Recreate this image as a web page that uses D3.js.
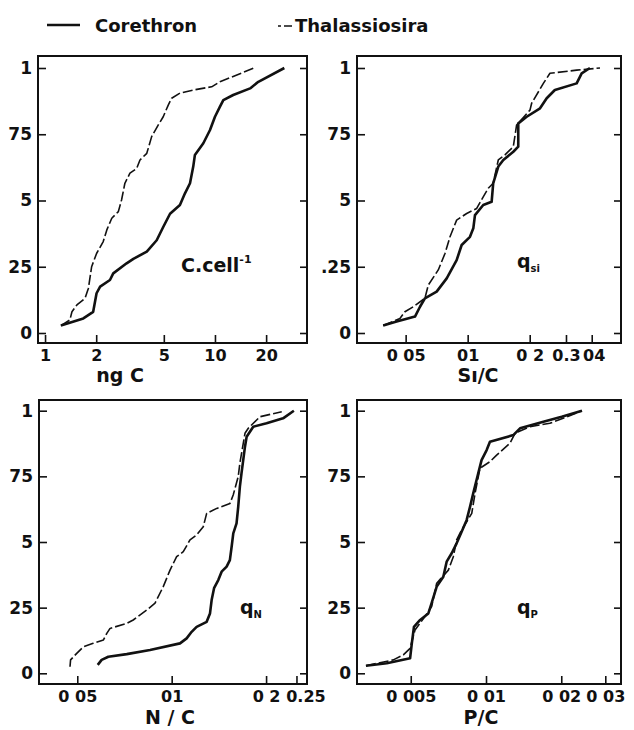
<!DOCTYPE html>
<html>
<head>
<meta charset="utf-8">
<script src="https://cdn.jsdelivr.net/npm/d3@7"></script>
<style>
  body { margin: 0; background: #fff; }
  text { font-family: "DejaVu Sans", sans-serif; font-weight: bold; fill: #111; }
</style>
</head>
<body>
<div class="chart"></div>
<script>
// cumulative frequency curves, [x, fraction]
const corethronCell = [[1.24,0.028],[1.68,0.055],[1.92,0.08],[2.01,0.15],[2.11,0.175],[2.41,0.2],[2.52,0.225],[3.02,0.263],[3.31,0.28],[3.97,0.307],[4.54,0.35],[4.96,0.40],[5.44,0.45],[6.22,0.483],[6.66,0.527],[7.13,0.565],[7.45,0.628],[7.62,0.672],[8.54,0.716],[9.35,0.766],[10.0,0.816],[10.7,0.854],[11.2,0.879],[12.8,0.898],[16.1,0.923],[18.0,0.948],[25.6,1.0]];
const thalassCell = [[1.24,0.028],[1.40,0.049],[1.44,0.08],[1.54,0.106],[1.72,0.131],[1.80,0.169],[1.88,0.25],[2.01,0.30],[2.20,0.345],[2.31,0.389],[2.47,0.433],[2.70,0.458],[2.82,0.502],[2.95,0.565],[3.16,0.603],[3.46,0.621],[3.62,0.653],[3.97,0.678],[4.24,0.741],[4.64,0.785],[4.96,0.816],[5.31,0.86],[5.56,0.886],[6.22,0.905],[7.45,0.917],[9.56,0.929],[10.7,0.948],[17.0,1.0]];

const corethronSi = [[0.0389,0.028],[0.0452,0.043],[0.0496,0.052],[0.0555,0.062],[0.0587,0.099],[0.062,0.131],[0.0707,0.156],[0.0791,0.206],[0.0884,0.275],[0.0935,0.332],[0.1026,0.363],[0.1065,0.395],[0.1085,0.445],[0.119,0.483],[0.1307,0.495],[0.133,0.565],[0.1408,0.628],[0.1489,0.653],[0.1665,0.684],[0.176,0.703],[0.176,0.791],[0.1934,0.816],[0.2245,0.848],[0.2418,0.886],[0.265,0.917],[0.338,0.942],[0.3575,0.98],[0.392,1.0]];
const thalassSi = [[0.0389,0.028],[0.0469,0.055],[0.0496,0.08],[0.0545,0.099],[0.062,0.131],[0.0644,0.181],[0.072,0.238],[0.0776,0.30],[0.0821,0.363],[0.0884,0.426],[0.0989,0.451],[0.1106,0.47],[0.119,0.514],[0.1259,0.546],[0.133,0.565],[0.1408,0.653],[0.1517,0.672],[0.1665,0.703],[0.1728,0.785],[0.2006,0.841],[0.2044,0.867],[0.233,0.942],[0.2508,0.98],[0.338,0.992],[0.4387,1.0]];

const corethronN = [[0.0581,0.032],[0.0598,0.051],[0.0628,0.063],[0.0719,0.073],[0.0853,0.089],[0.1063,0.114],[0.1116,0.133],[0.1158,0.158],[0.1201,0.177],[0.1293,0.196],[0.1325,0.228],[0.1341,0.279],[0.1365,0.324],[0.1408,0.355],[0.1443,0.387],[0.1497,0.406],[0.1533,0.431],[0.1553,0.482],[0.1572,0.533],[0.161,0.571],[0.163,0.634],[0.165,0.711],[0.167,0.762],[0.1713,0.863],[0.1734,0.901],[0.182,0.939],[0.2007,0.952],[0.2266,0.971],[0.2453,1.0]];
const thalassN = [[0.0474,0.025],[0.0476,0.051],[0.0498,0.076],[0.0523,0.101],[0.0562,0.114],[0.0606,0.127],[0.0621,0.152],[0.0636,0.171],[0.0719,0.19],[0.0754,0.203],[0.0833,0.241],[0.0885,0.267],[0.094,0.33],[0.0988,0.393],[0.1037,0.444],[0.1089,0.463],[0.1144,0.508],[0.1201,0.527],[0.1261,0.558],[0.1293,0.609],[0.1392,0.628],[0.1534,0.647],[0.1571,0.679],[0.163,0.749],[0.165,0.80],[0.1713,0.914],[0.1755,0.933],[0.1912,0.977],[0.2244,0.996]];

const corethronP = [[0.00331,0.029],[0.00401,0.038],[0.00497,0.057],[0.00505,0.114],[0.00515,0.177],[0.00545,0.203],[0.00588,0.228],[0.00606,0.267],[0.00635,0.33],[0.00675,0.368],[0.00696,0.425],[0.00729,0.457],[0.00763,0.495],[0.00799,0.539],[0.00837,0.584],[0.00863,0.634],[0.00889,0.685],[0.00931,0.762],[0.0096,0.812],[0.01006,0.85],[0.01037,0.882],[0.01286,0.907],[0.01368,0.933],[0.01696,0.958],[0.02008,0.977],[0.0242,1.0]];
const thalassP = [[0.00331,0.029],[0.00426,0.051],[0.00467,0.07],[0.00497,0.095],[0.0052,0.165],[0.0057,0.216],[0.00606,0.254],[0.00635,0.343],[0.00707,0.393],[0.0074,0.444],[0.00763,0.508],[0.00799,0.546],[0.00837,0.577],[0.00877,0.609],[0.00904,0.685],[0.00946,0.781],[0.01037,0.806],[0.01103,0.831],[0.01247,0.876],[0.01306,0.914],[0.01499,0.939],[0.018,0.952],[0.02036,0.971],[0.0242,1.0]];

// axis ticks as printed
const yTicks = [0, 0.25, 0.5, 0.75, 1];
const yLabels = ["0", "25", "5", "75", "1"];
const yLabelsSi = ["0", ".25", "5", "75", "1"];
const cellTicks = [1, 2, 5, 10, 20];
const cellLabels = ["1", "2", "5", "10", "20"];
const siTicks = [0.05, 0.1, 0.2, 0.3, 0.4];
const siLabels = ["0 05", "01", "0 2", "0.3", "04"];
const nTicks = [0.05, 0.1, 0.2, 0.25];
const nLabels = ["0 05", "01", "0 2", "0.25"];
const pTicks = [0.005, 0.01, 0.02, 0.03];
const pLabels = ["0 005", "0 01", "0 02", "0 03"];

const svg = d3.select(".chart").append("svg").attr("width", 634).attr("height", 730);

const panels = [
  { left: 38, right: 307, top: 56, bottom: 343, y0: 333, y1: 68, domain: [0.909, 34.8],
    a: corethronCell, b: thalassCell, ticks: cellTicks, labels: cellLabels, ylab: yLabels,
    title: "ng C", titleX: 120, note: "cell" },
  { left: 357, right: 621, top: 56, bottom: 343, y0: 333, y1: 68, domain: [0.02903, 0.5548],
    a: corethronSi, b: thalassSi, ticks: siTicks, labels: siLabels, ylab: yLabelsSi,
    title: "Sı/C", titleX: 478, note: "Si" },
  { left: 39, right: 307, top: 400, bottom: 684, y0: 673.3, y1: 410.7, domain: [0.03775, 0.2701],
    a: corethronN, b: thalassN, ticks: nTicks, labels: nLabels, ylab: yLabels,
    title: "N / C", titleX: 170, note: "N" },
  { left: 357, right: 621, top: 400, bottom: 684, y0: 673.3, y1: 410.7, domain: [0.003048, 0.03467],
    a: corethronP, b: thalassP, ticks: pTicks, labels: pLabels, ylab: yLabels,
    title: "P/C", titleX: 481, note: "P" },
];

panels.forEach(function (p) {
  const x = d3.scaleLog().domain(p.domain).range([p.left, p.right]);
  const y = d3.scaleLinear().domain([0, 1]).range([p.y0, p.y1]);
  const g = svg.append("g");

  const xAxis = g.append("g")
    .attr("transform", `translate(0,${p.bottom})`)
    .call(d3.axisBottom(x).tickValues(p.ticks).tickFormat((d, i) => p.labels[i])
      .tickSizeInner(-8).tickSizeOuter(0).tickPadding(7));
  xAxis.select(".domain").remove();
  xAxis.selectAll("line").attr("stroke", "#111").attr("stroke-width", 1.6);
  xAxis.selectAll("text").style("font-size", "16px").attr("fill", "#111")
    .attr("dx", d => (d === 0.25 ? 9 : d === 0.4 ? 2 : 0));

  const yAxis = g.append("g")
    .attr("transform", `translate(${p.left},0)`)
    .call(d3.axisLeft(y).tickValues(yTicks).tickFormat((d, i) => p.ylab[i])
      .tickSizeInner(-8).tickSizeOuter(0).tickPadding(6));
  yAxis.select(".domain").remove();
  yAxis.selectAll("line").attr("stroke", "#111").attr("stroke-width", 1.6);
  yAxis.selectAll("text").style("font-size", "17px").attr("fill", "#111");

  const yRight = g.append("g")
    .attr("transform", `translate(${p.right},0)`)
    .call(d3.axisRight(y).tickValues(yTicks).tickFormat("").tickSizeInner(-7).tickSizeOuter(0));
  yRight.select(".domain").remove();
  yRight.selectAll("line").attr("stroke", "#111").attr("stroke-width", 1.6);

  g.append("rect")
    .attr("x", p.left).attr("y", p.top)
    .attr("width", p.right - p.left).attr("height", p.bottom - p.top)
    .attr("fill", "none").attr("stroke", "#111").attr("stroke-width", 2);

  const line = d3.line().x(d => x(d[0])).y(d => y(d[1]));

  g.append("path").datum(p.b).attr("d", line)
    .attr("fill", "none").attr("stroke", "#111").attr("stroke-width", 1.6)
    .attr("stroke-dasharray", "10,3").attr("stroke-linejoin", "round");
  g.append("path").datum(p.a).attr("d", line)
    .attr("fill", "none").attr("stroke", "#111").attr("stroke-width", 2.6)
    .attr("stroke-linejoin", "round");

  const tBase = p.bottom === 343 ? 382 : 724;
  g.append("text").attr("x", p.titleX).attr("y", tBase)
    .attr("text-anchor", "middle").style("font-size", "19px").text(p.title);

  // panel label
  if (p.note === "cell") {
    const t = g.append("text").attr("x", 181).attr("y", 272).style("font-size", "19px");
    t.append("tspan").text("C.cell");
    t.append("tspan").attr("dy", -9).style("font-size", "11px").text("-1");
  } else {
    const nx = p.note === "N" ? 240 : 517;
    const ny = p.top === 56 ? 268 : 614;
    const t = g.append("text").attr("x", nx).attr("y", ny).style("font-size", "19px");
    t.append("tspan").text("q");
    t.append("tspan").attr("dy", 4).style("font-size", "10px").text(p.note === "Si" ? "si" : p.note);
  }
});

// legend
svg.append("line").attr("x1", 47).attr("x2", 80).attr("y1", 25).attr("y2", 25)
  .attr("stroke", "#111").attr("stroke-width", 2.6);
svg.append("text").attr("x", 95).attr("y", 32).style("font-size", "18px").text("Corethron");
svg.append("line").attr("x1", 278).attr("x2", 292).attr("y1", 26).attr("y2", 26)
  .attr("stroke", "#111").attr("stroke-width", 1.6).attr("stroke-dasharray", "3,3,8");
svg.append("text").attr("x", 295).attr("y", 32).style("font-size", "18px").text("Thalassiosira");
</script>
</body>
</html>
